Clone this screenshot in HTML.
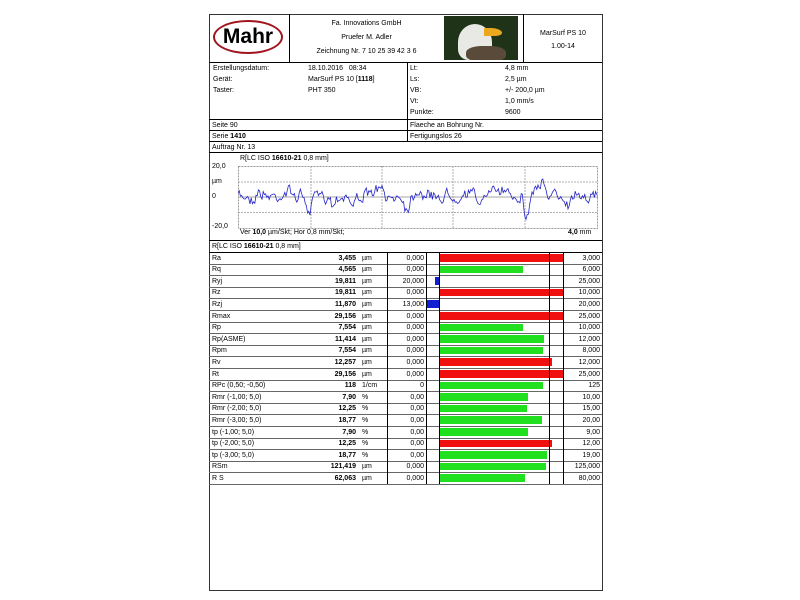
<!DOCTYPE html>
<html><head><meta charset="utf-8"><style>
body{margin:0;width:800px;height:600px;background:#fff;position:relative;font-family:"Liberation Sans",sans-serif;font-size:7px;color:#000;overflow:hidden}
.a{position:absolute;white-space:nowrap}
.l{position:absolute;background:#000}
.r{text-align:right}
</style></head><body>
<div class="a" style="left:209px;top:14px;width:392px;height:575px;border:1px solid #333"></div>
<!-- header -->
<div class="l" style="left:209px;top:62px;width:393px;height:1px"></div>
<div class="l" style="left:289px;top:14px;width:1px;height:48px"></div>
<div class="l" style="left:523px;top:14px;width:1px;height:48px"></div>
<div class="a" style="left:213px;top:20px;width:70px;height:34px;border:2px solid #a0141e;border-radius:50%;box-sizing:border-box"></div>
<div class="a" style="left:213px;top:22px;width:70px;text-align:center;font-size:21px;font-weight:bold;line-height:30px">Mahr</div>
<div class="a" style="left:290px;top:17px;width:153px;text-align:center;line-height:14px">Fa. Innovations GmbH<br>Pruefer M. Adler<br>Zeichnung Nr. 7 10 25 39 42 3 6</div>
<div class="a" style="left:444px;top:16px;width:74px;height:44px;background:#1e3318;overflow:hidden">
<div class="a" style="left:14px;top:8px;width:34px;height:36px;background:#e8e8e4;border-radius:50% 50% 20% 30%"></div>
<div class="a" style="left:40px;top:12px;width:18px;height:8px;background:#e9a81e;border-radius:10% 80% 50% 10%"></div>
<div class="a" style="left:22px;top:30px;width:40px;height:16px;background:#5a4a3a;border-radius:40%"></div>
</div>
<div class="a" style="left:524px;top:27px;width:78px;text-align:center;line-height:13px">MarSurf PS 10<br>1.00-14</div>
<!-- info -->
<div class="l" style="left:407px;top:62px;width:1px;height:79px"></div>
<div class="a" style="left:213px;top:63px;line-height:11px">Erstellungsdatum:<br>Gerät:<br>Taster:</div>
<div class="a" style="left:308px;top:63px;line-height:11px">18.10.2016 &nbsp; 08:34<br>MarSurf PS 10 [<b>1118</b>]<br>PHT 350</div>
<div class="a" style="left:410px;top:63px;line-height:11px">Lt:<br>Ls:<br>VB:<br>Vt:<br>Punkte:</div>
<div class="a" style="left:505px;top:63px;line-height:11px">4,8 mm<br>2,5 µm<br>+/- 200,0 µm<br>1,0 mm/s<br>9600</div>
<div class="l" style="left:209px;top:119px;width:393px;height:1px"></div>
<div class="l" style="left:209px;top:130px;width:393px;height:1px"></div>
<div class="l" style="left:209px;top:141px;width:393px;height:1px"></div>
<div class="l" style="left:209px;top:152px;width:393px;height:1px"></div>
<div class="a" style="left:212px;top:120px;line-height:11px">Seite 90</div>
<div class="a" style="left:410px;top:120px;line-height:11px">Flaeche an Bohrung Nr.</div>
<div class="a" style="left:212px;top:131px;line-height:11px">Serie <b>1410</b></div>
<div class="a" style="left:410px;top:131px;line-height:11px">Fertigungslos 26</div>
<div class="a" style="left:212px;top:142px;line-height:11px">Auftrag Nr. 13</div>
<!-- chart -->
<div class="a" style="left:240px;top:155px">R[LC ISO <b>16610-21</b> 0,8 mm]</div>
<div class="a" style="left:212px;top:163px">20,0</div>
<div class="a" style="left:212px;top:178px">µm</div>
<div class="a" style="left:212px;top:193px">0</div>
<div class="a" style="left:212px;top:223px">-20,0</div>
<svg class="a" style="left:238px;top:166px" width="360" height="63">
<rect x="0.5" y="0.5" width="359" height="62" fill="none" stroke="#999" stroke-dasharray="2,1"/>
<g stroke="#999" stroke-dasharray="2,1" stroke-width="0.8">
<line x1="0" y1="16" x2="360" y2="16"/><line x1="0" y1="31" x2="360" y2="31" stroke-dasharray="none" stroke="#888"/><line x1="0" y1="46.5" x2="360" y2="46.5"/>
<line x1="73" y1="0" x2="73" y2="63"/><line x1="144" y1="0" x2="144" y2="63"/><line x1="215" y1="0" x2="215" y2="63"/><line x1="287" y1="0" x2="287" y2="63"/>
</g>
<polyline id="wave" fill="none" stroke="#2323c8" stroke-width="0.8" points=""/>
</svg>
<script>
(function(){var s=7,p=[];function r(){s=(s*16807)%2147483647;return s/2147483647-0.5;}
var dips={15:6,70:14,72:12,95:10,115:12,150:6,168:8,170:10,205:10,240:6,287:14,290:16,302:10,310:12,330:8};
var peaks={20:-4,50:-5,140:-8,180:-6,205:-5,230:-4,260:-8,270:-7,300:-12,305:-13,340:-4};
var sm=0;
for(var x=0;x<=359;x+=1.2){sm=sm*0.5+r()*9;var y=30+sm+r()*4;var k=Math.round(x);for(var d in dips){if(Math.abs(k-d)<4)y+=dips[d]*(1-Math.abs(k-d)/4);}for(var q in peaks){if(Math.abs(k-q)<8)y+=peaks[q]*(1-Math.abs(k-q)/8);}p.push(x.toFixed(1)+","+y.toFixed(1));}
document.getElementById('wave').setAttribute('points',p.join(' '));})();
</script>
<div class="a" style="left:240px;top:229px">Ver <b>10,0</b> µm/Skt; Hor 0,8 mm/Skt;</div>
<div class="a" style="left:568px;top:229px"><b>4,0</b> mm</div>
<div class="l" style="left:209px;top:240px;width:393px;height:1px"></div>
<div class="a" style="left:212px;top:241px;line-height:11px">R[LC ISO <b>16610-21</b> 0,8 mm]</div>
<div class="l" style="left:209px;top:252px;width:393px;height:1px"></div>
<div id="tbl"></div>
<script>
var rows=[["Ra","3,455","µm","0,000","r",563,"3,000"],["Rq","4,565","µm","0,000","g",523,"6,000"],["Ryj","19,811","µm","20,000","b",-435,"25,000"],["Rz","19,811","µm","0,000","r",563,"10,000"],["Rzj","11,870","µm","13,000","b",-426,"20,000"],["Rmax","29,156","µm","0,000","r",563,"25,000"],["Rp","7,554","µm","0,000","g",523,"10,000"],["Rp(ASME)","11,414","µm","0,000","g",544,"12,000"],["Rpm","7,554","µm","0,000","g",543,"8,000"],["Rv","12,257","µm","0,000","r",552,"12,000"],["Rt","29,156","µm","0,000","r",563,"25,000"],["RPc (0,50; -0,50)","118","1/cm","0","g",543,"125"],["Rmr (-1,00; 5,0)","7,90","%","0,00","g",528,"10,00"],["Rmr (-2,00; 5,0)","12,25","%","0,00","g",527,"15,00"],["Rmr (-3,00; 5,0)","18,77","%","0,00","g",542,"20,00"],["tp (-1,00; 5,0)","7,90","%","0,00","g",528,"9,00"],["tp (-2,00; 5,0)","12,25","%","0,00","r",552,"12,00"],["tp (-3,00; 5,0)","18,77","%","0,00","g",547,"19,00"],["RSm","121,419","µm","0,000","g",546,"125,000"],["R S","62,063","µm","0,000","g",525,"80,000"]];
var c={r:"#f01010",g:"#20e020",b:"#1020d0"},h="",H=11.6,y0=252;
rows.forEach(function(w,i){var y=y0+i*H;var st='top:'+(y+0.5)+'px;line-height:'+H+'px;';
h+='<div class="a" style="left:212px;'+st+'">'+w[0]+'</div>';
h+='<div class="a r" style="left:290px;width:66px;'+st+'font-weight:bold">'+w[1]+'</div>';
h+='<div class="a" style="left:362px;'+st+'">'+w[2]+'</div>';
h+='<div class="a r" style="left:388px;width:36px;'+st+'">'+w[3]+'</div>';
h+='<div class="a r" style="left:564px;width:36px;'+st+'">'+w[6]+'</div>';
var x1,x2;if(w[5]<0){x1=-w[5];x2=439;}else{x1=439;x2=w[5];}
h+='<div class="a" style="left:'+x1+'px;top:'+(y+2)+'px;width:'+(x2-x1)+'px;height:7.5px;background:'+c[w[4]]+'"></div>';
h+='<div class="l" style="left:209px;top:'+(y+H)+'px;width:393px;height:1px;background:#666"></div>';});
h+='<div class="l" style="left:387px;top:252px;width:1px;height:232px"></div>';
h+='<div class="l" style="left:426px;top:252px;width:1px;height:232px"></div>';
h+='<div class="l" style="left:439px;top:252px;width:1px;height:232px"></div>';
h+='<div class="l" style="left:549px;top:252px;width:1px;height:232px"></div>';
h+='<div class="l" style="left:563px;top:252px;width:1px;height:232px"></div>';
document.getElementById('tbl').innerHTML=h;
</script>
</body></html>
